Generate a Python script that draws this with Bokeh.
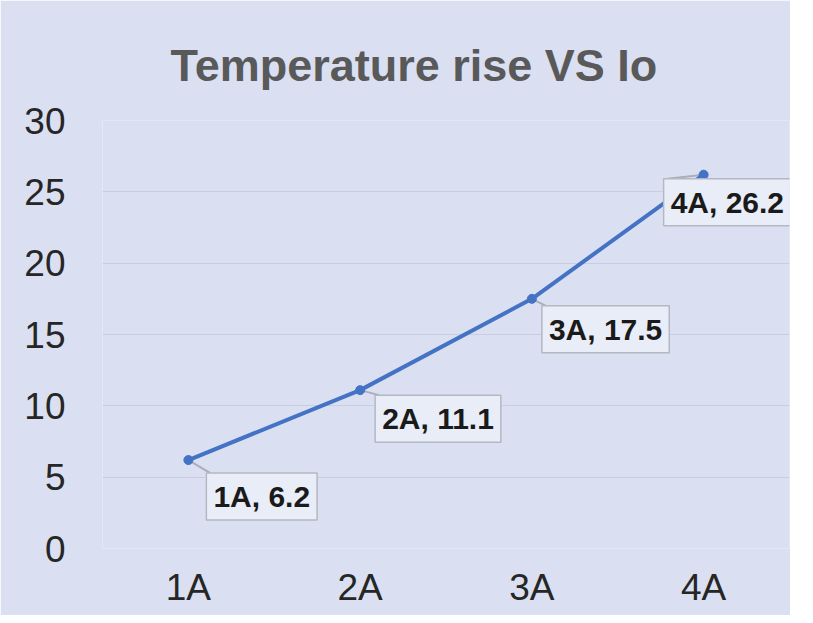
from bokeh.plotting import figure
from bokeh.models import Label, Range1d, FixedTicker
from bokeh.embed import file_html
from bokeh.resources import INLINE

# ---- data ----
categories = ["1A", "2A", "3A", "4A"]
temp_rise = [6.2, 11.1, 17.5, 26.2]
y_ticks = [0, 5, 10, 15, 20, 25, 30]
title_text = "Temperature rise VS Io"

# ---- label placement (screen px, style only) ----
label_dx = [18, 15, 10, -40]
label_dy = [13, 5, 7, 4]
PAD = 7

BG = "#dae0f1"
LINE = "#4472c4"
FONT = "Liberation Sans"

xs = list(range(len(categories)))
labels = [f"{c}, {v}" for c, v in zip(categories, temp_rise)]

W, H = 790, 615
BL, BR, BT, BB = 102, 1, 120, 67
p = figure(width=W, height=H, output_backend="svg", toolbar_location=None,
           x_range=Range1d(-0.5, len(categories) - 0.5), y_range=Range1d(0, 30),
           min_border_left=BL, min_border_right=BR, min_border_top=BT, min_border_bottom=BB,
           background_fill_color=BG, border_fill_color=BG, outline_line_color=None)

p.title.text = title_text
p.title.align = "left"
p.title.text_font = FONT
p.title.text_font_size = "45px"
p.title.text_font_style = "bold"
p.title.text_color = "#595959"
p.title.standoff = 60
p.title.offset = 68

p.xgrid.visible = False
p.ygrid.grid_line_color = "#c8cee0"
p.ygrid.grid_line_width = 1

p.yaxis.ticker = FixedTicker(ticks=y_ticks)
p.xaxis.ticker = FixedTicker(ticks=xs)
p.xaxis.major_label_overrides = {i: c for i, c in enumerate(categories)}
for ax in (p.xaxis, p.yaxis):
    ax.axis_line_color = None
    ax.major_tick_line_color = None
    ax.minor_tick_line_color = None
    ax.major_label_text_font = FONT
    ax.major_label_text_font_size = "37px"
    ax.major_label_text_color = "#262626"
p.yaxis.major_label_standoff = 31
p.xaxis.major_label_standoff = 12

# leader lines
frame_w = W - BL - BR
frame_h = H - BT - BB
ux = frame_w / len(categories)
uy = frame_h / 30.0
p.segment(x0=xs, y0=temp_rise,
          x1=[x + (dx + 4) / ux for x, dx in zip(xs, label_dx)],
          y1=[y - dy / uy for y, dy in zip(temp_rise, label_dy)],
          line_color="#a9aeb9", line_width=2)

p.line(xs, temp_rise, line_color=LINE, line_width=4)
p.scatter(xs, temp_rise, size=9, fill_color=LINE, line_color=LINE)

for x, y, t, dx, dy in zip(xs, temp_rise, labels, label_dx, label_dy):
    p.add_layout(Label(x=x, y=y, text=t, x_offset=dx, y_offset=-dy,
                       text_align="left", text_baseline="top",
                       text_font=FONT, text_font_size="30px", text_font_style="bold",
                       text_color="#1a1a1a",
                       background_fill_color="#e9edf7", border_line_color="#b4b8c2",
                       border_line_width=1.5, padding=PAD))

open("out.html", "w").write(file_html(p, INLINE))
